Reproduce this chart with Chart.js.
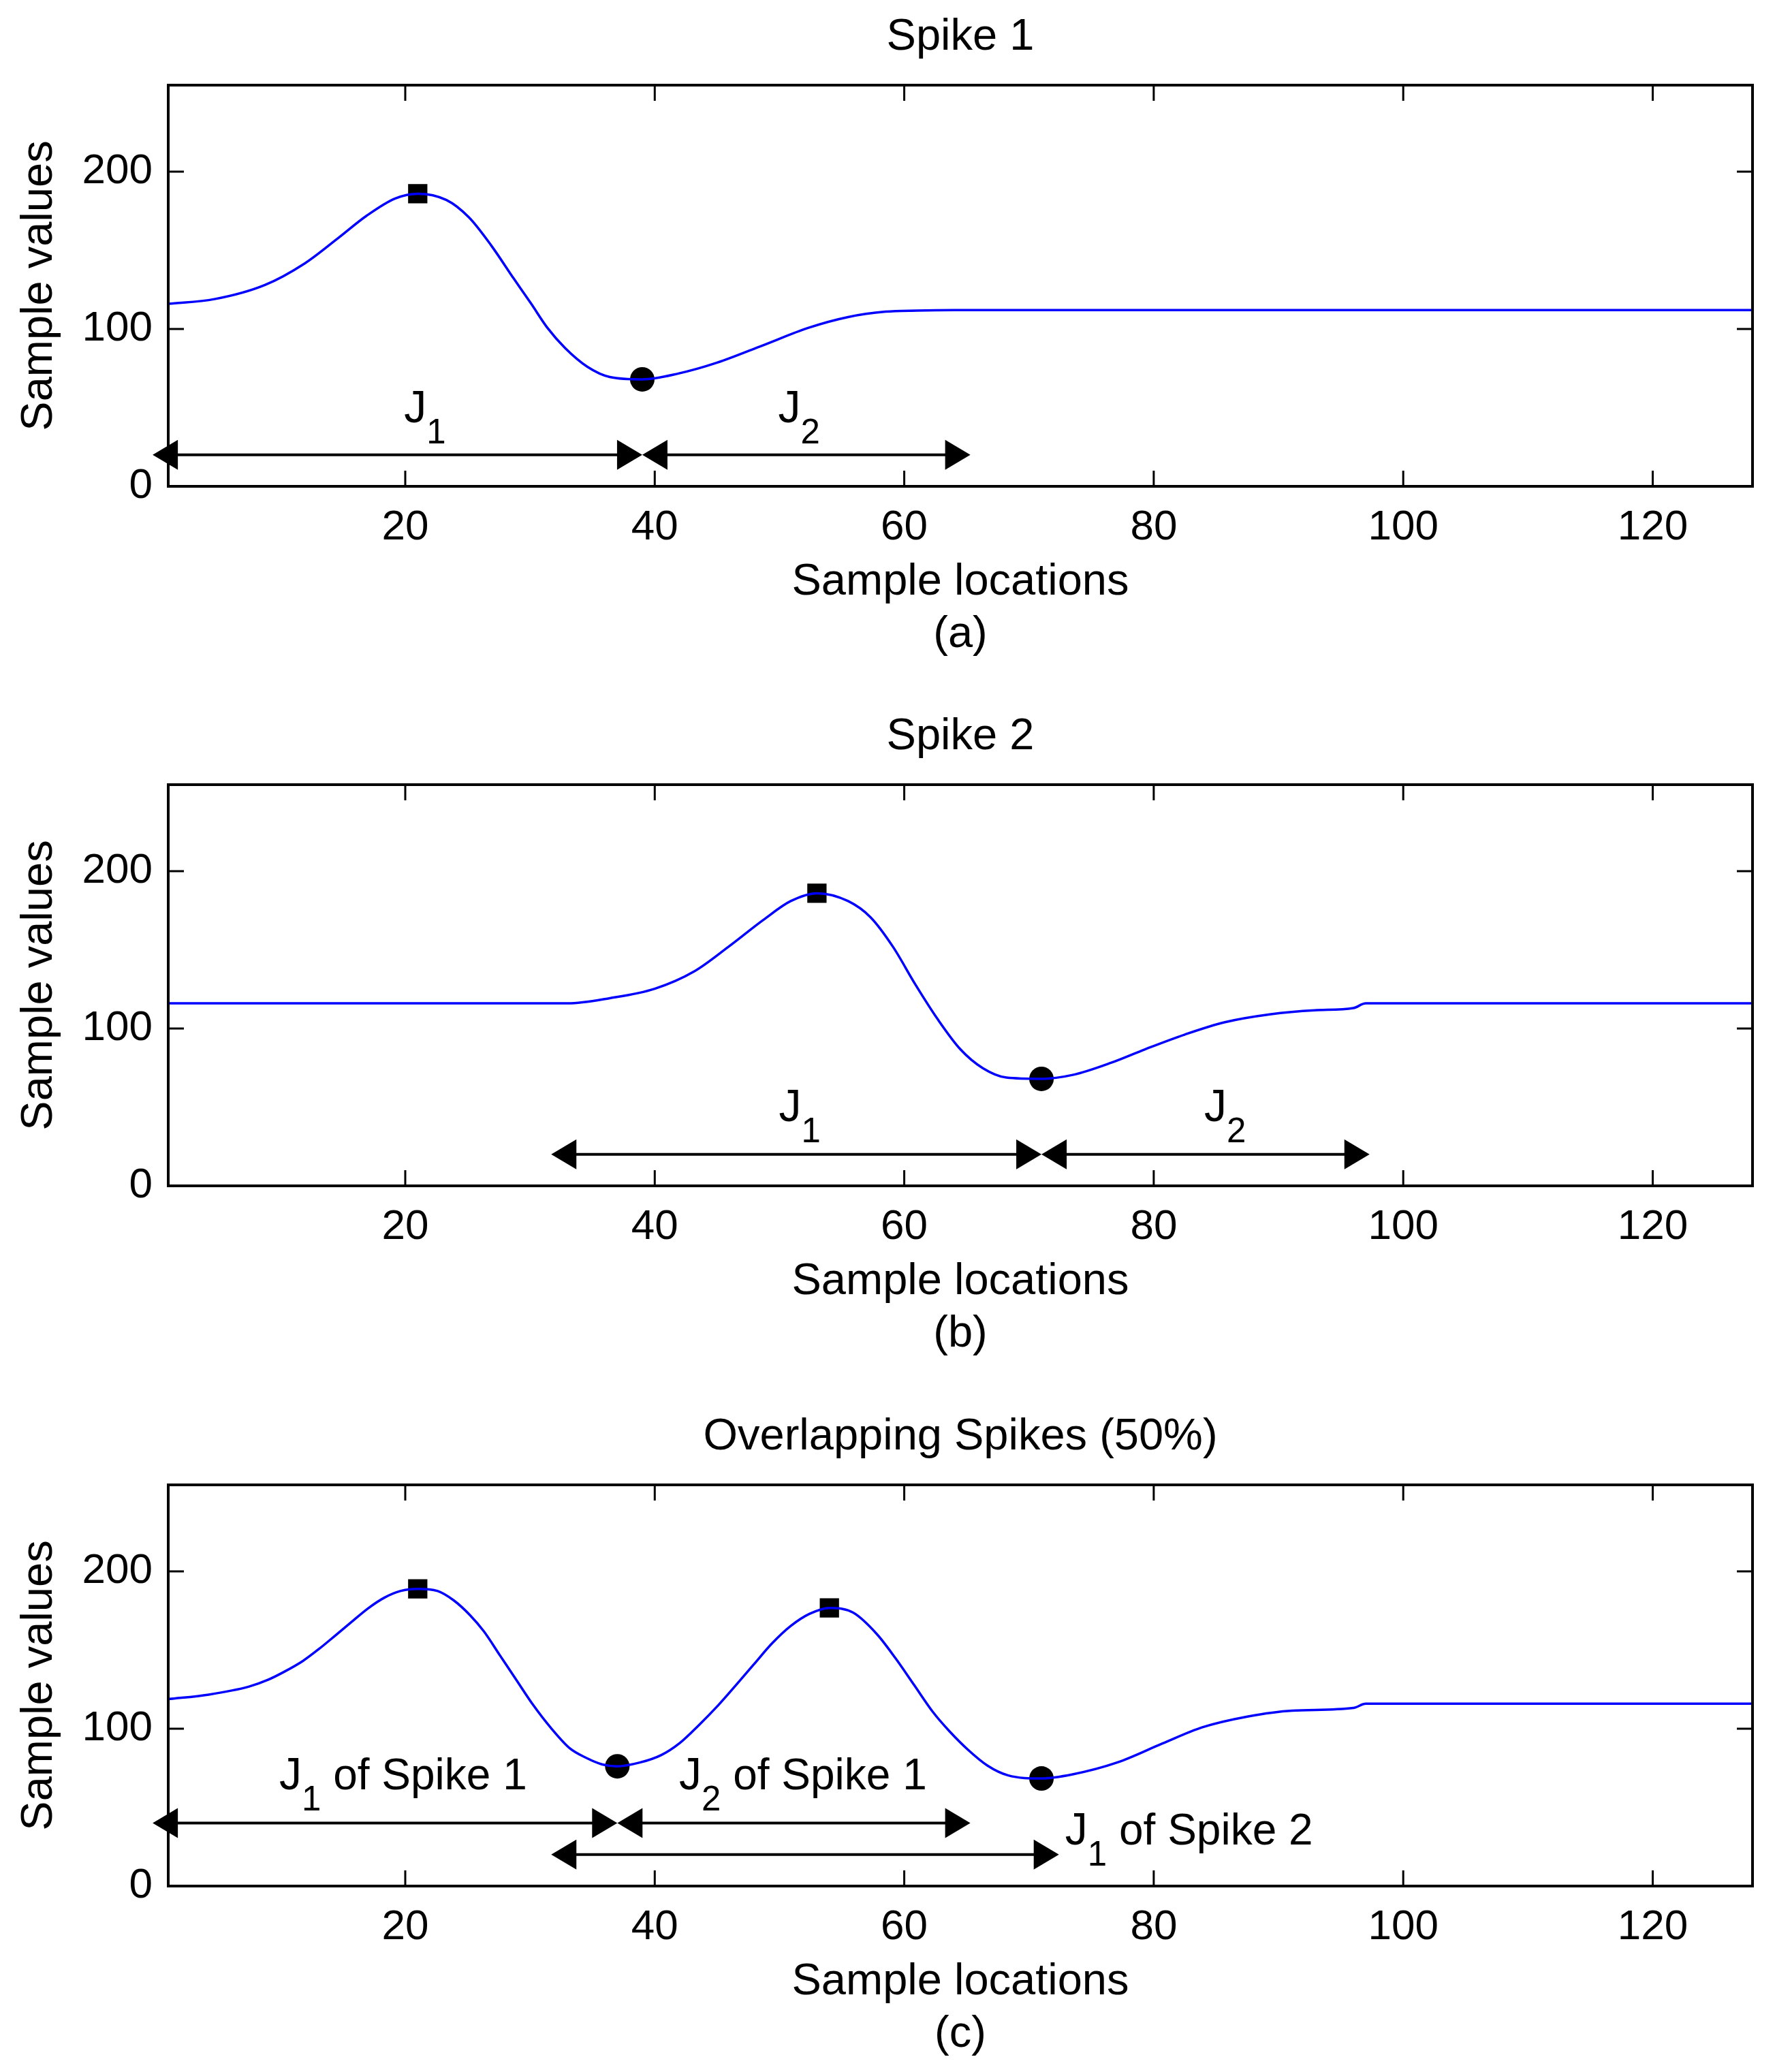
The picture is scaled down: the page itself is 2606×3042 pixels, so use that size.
<!DOCTYPE html>
<html><head><meta charset="utf-8">
<script src="https://cdn.jsdelivr.net/npm/chart.js@4.4.1/dist/chart.umd.min.js"></script>
<style>
html,body{margin:0;padding:0;background:#fff;width:2606px;height:3042px;overflow:hidden}
canvas{position:absolute;left:0}
</style></head>
<body>
<canvas id="c1" width="2606" height="987" style="top:0px"></canvas>
<canvas id="c2" width="2606" height="987" style="top:1027px"></canvas>
<canvas id="c3" width="2606" height="987" style="top:2055px"></canvas>
<script>
// ---------- data ----------
const xTicks = [20, 40, 60, 80, 100, 120];
const yTicks = [0, 100, 200];

const spike1X = [1, 4.7, 8.75, 11.9, 14.65, 16.9, 19.2, 21, 23.3, 25.1, 26.9, 28.7, 30.1, 31.4, 32.8, 34.6, 36.4, 39, 41.9, 45, 48.7, 52.3, 55.5, 58.5, 61, 64, 128];
const spike1Y = [116, 119, 128, 141.5, 158, 172, 183, 186, 182, 171, 153, 132, 116, 100.7, 88, 76, 69.5, 68, 71.7, 78.6, 89.7, 100.7, 107.6, 111, 111.7, 112, 112];
const spike1PeakX = [21], spike1PeakY = [186];
const spike1TroughX = [39], spike1TroughY = [68];

const spike2X = [1, 33, 36.4, 40, 43.2, 45.9, 48.7, 50.9, 53, 55.5, 57.3, 59.1, 60.9, 62.7, 64.5, 66.3, 68.2, 71, 73.5, 76.6, 79.3, 82.5, 85.7, 89.3, 92.9, 96, 97, 128];
const spike2Y = [116, 116, 119.3, 125.3, 136.5, 151.9, 169, 181, 186, 181, 170.7, 151.9, 127.9, 105.7, 86.8, 74.8, 68.8, 68, 70.5, 78.3, 86.8, 96.2, 104, 109, 111.6, 113, 116, 116];
const spike2PeakX = [53], spike2PeakY = [186];
const spike2TroughX = [71], spike2TroughY = [68];

const overlapX = [1, 4.24, 7.48, 9.0, 10.3, 11.8, 13.1, 14.4, 15.7, 17.0, 18.3, 19.6, 21, 22.6, 23.9, 25.2, 26.3, 27.6, 28.9, 30.2, 31.7, 33.2, 34.5, 35.8, 37, 38.8, 40.5, 42.0, 43.5, 45.1, 46.6, 47.9, 49.4, 50.9, 52.4, 54, 55.9, 57.8, 59.3, 60.8, 62.3, 63.6, 65.1, 66.7, 68.3, 71, 73.5, 77.1, 80.7, 83.9, 87.5, 91.1, 96, 97, 128];
const overlapY = [118.8, 121.7, 126.8, 131.1, 136.2, 143.1, 150.8, 159.3, 167.9, 176.4, 183.2, 187.5, 188.9, 187.5, 181.5, 172.1, 161.9, 146.5, 131.1, 115.7, 100.3, 87.5, 81.5, 77.3, 76.1, 78.5, 83.2, 90.9, 102, 115, 128.5, 140.5, 154.2, 165.3, 173, 176.8, 173.8, 160.2, 144.8, 127.7, 110.6, 98.6, 86.7, 76.4, 70.4, 68.4, 71, 78.6, 90.6, 100.9, 107.7, 111.5, 113.2, 115.9, 115.9];
const overlapPeakX = [21, 54], overlapPeakY = [188.9, 176.8];
const overlapTroughX = [37, 71], overlapTroughY = [76.1, 68.4];

// interval arrows (sample locations) and their height (sample value)
const arrowsA_from = [-0.25, 39], arrowsA_to = [39, 65.3], arrowsA_y = [20, 20];
const arrowsB_from = [31.7, 71], arrowsB_to = [71, 97.3], arrowsB_y = [20, 20];
const arrowsC_from = [-0.25, 37, 31.7], arrowsC_to = [37, 65.3, 72.4], arrowsC_y = [40, 40, 20];

// interval labels
const labelsA_x = [19.9, 49.9], labelsA_y = [40.8, 40.8], labelsA_sub = ['1', '2'], labelsA_rest = ['', ''];
const labelsB_x = [49.95, 84.05], labelsB_y = [41.1, 41.1], labelsB_sub = ['1', '2'], labelsB_rest = ['', ''];
const labelsC_x = [9.9, 41.95, 72.9], labelsC_y = [61.3, 61.3, 26.6], labelsC_sub = ['1', '2', '1'],
      labelsC_rest = [' of Spike 1', ' of Spike 1', ' of Spike 2'];

const titles = ['Spike 1', 'Spike 2', 'Overlapping Spikes (50%)'];
const captions = ['(a)', '(b)', '(c)'];
const xTitle = 'Sample locations';
const yTitle = 'Sample values';

// ---------- drawing ----------
const FONT = '"Liberation Sans", Arial, Helvetica, sans-serif';
const toPts = (xs, ys) => xs.map((x, i) => ({x: x, y: ys[i]}));

const panelPlugin = {
  id: 'panel',
  afterDatasetsDraw(chart, args, o) {
    const ctx = chart.ctx, a = chart.chartArea, xs = chart.scales.x, ys = chart.scales.y;
    ctx.save();
    ctx.strokeStyle = '#000'; ctx.fillStyle = '#000';
    // axes box
    ctx.lineWidth = 4;
    ctx.strokeRect(a.left, a.top, a.right - a.left, a.bottom - a.top);
    // inward tick marks on all four sides
    const TL = 23;
    ctx.lineWidth = 3;
    ctx.beginPath();
    xs.ticks.forEach(t => {
      const px = xs.getPixelForValue(t.value);
      ctx.moveTo(px, a.bottom); ctx.lineTo(px, a.bottom - TL);
      ctx.moveTo(px, a.top); ctx.lineTo(px, a.top + TL);
    });
    ys.ticks.forEach(t => {
      const py = ys.getPixelForValue(t.value);
      ctx.moveTo(a.left, py); ctx.lineTo(a.left + TL, py);
      ctx.moveTo(a.right, py); ctx.lineTo(a.right - TL, py);
    });
    ctx.stroke();
    // arrows
    const HL = 37, HW = 22;
    const head = (tip, y, dir) => {
      ctx.beginPath();
      ctx.moveTo(tip, y);
      ctx.lineTo(tip - dir * HL, y - HW);
      ctx.lineTo(tip - dir * HL, y + HW);
      ctx.closePath(); ctx.fill();
    };
    o.arrFrom.forEach((f, i) => {
      const x1 = xs.getPixelForValue(f), x2 = xs.getPixelForValue(o.arrTo[i]);
      const y = ys.getPixelForValue(o.arrY[i]);
      ctx.lineWidth = 4;
      ctx.beginPath(); ctx.moveTo(x1 + HL * 0.5, y); ctx.lineTo(x2 - HL * 0.5, y); ctx.stroke();
      head(x1, y, -1); head(x2, y, 1);
    });
    // labels J_n ...
    ctx.textAlign = 'left'; ctx.textBaseline = 'alphabetic';
    o.labX.forEach((lx, i) => {
      const px = xs.getPixelForValue(lx), py = ys.getPixelForValue(o.labY[i]);
      ctx.font = '66px ' + FONT;
      ctx.fillText('J', px, py);
      ctx.font = '51px ' + FONT;
      ctx.fillText(o.labSub[i], px + 33, py + 31);
      const sw = ctx.measureText(o.labSub[i]).width;
      if (o.labRest[i]) {
        ctx.font = '64px ' + FONT;
        ctx.fillText(o.labRest[i], px + 33 + sw, py);
      }
    });
    // titles
    ctx.font = '65px ' + FONT;
    ctx.textAlign = 'center';
    const cx = (a.left + a.right) / 2;
    ctx.fillText(o.title, cx, a.top - 52);
    ctx.fillText(xTitle, cx, a.bottom + 159);
    ctx.fillText(o.caption, cx, a.bottom + 236);
    ctx.save();
    ctx.translate(76, (a.top + a.bottom) / 2);
    ctx.rotate(-Math.PI / 2);
    ctx.fillText(yTitle, 0, 0);
    ctx.restore();
    ctx.restore();
  }
};

function makePanel(id, cx, cy, pkx, pky, trx, try_, arrF, arrT, arrY, lx, ly, lsub, lrest, title, caption) {
  return new Chart(document.getElementById(id), {
    type: 'line',
    data: {
      datasets: [
        {data: toPts(cx, cy), borderColor: '#0000ff', borderWidth: 3.5, pointRadius: 0,
         cubicInterpolationMode: 'monotone', fill: false},
        {data: toPts(pkx, pky), showLine: false, pointStyle: 'rect', pointRadius: 20,
         backgroundColor: '#000', borderColor: '#000', borderWidth: 0},
        {data: toPts(trx, try_), showLine: false, pointStyle: 'circle', pointRadius: 18,
         backgroundColor: '#000', borderColor: '#000', borderWidth: 0}
      ]
    },
    options: {
      responsive: false, animation: false, devicePixelRatio: 1,
      layout: {padding: {top: 125, left: 0, right: 33, bottom: 0}},
      plugins: {
        legend: {display: false}, tooltip: {enabled: false}, title: {display: false},
        panel: {title: title, caption: caption, arrFrom: arrF, arrTo: arrT, arrY: arrY,
                labX: lx, labY: ly, labSub: lsub, labRest: lrest}
      },
      scales: {
        x: {
          type: 'linear', min: 1, max: 128,
          grid: {display: false, drawTicks: false}, border: {display: false},
          afterBuildTicks: s => { s.ticks = xTicks.map(v => ({value: v})); },
          afterFit: s => { s.height = 273; },
          ticks: {autoSkip: false, maxRotation: 0, color: '#000', padding: 24,
                  font: {family: FONT, size: 62}}
        },
        y: {
          type: 'linear', min: 0, max: 255,
          grid: {display: false, drawTicks: false}, border: {display: false},
          afterBuildTicks: s => { s.ticks = yTicks.map(v => ({value: v})); },
          afterFit: s => { s.width = 247; },
          ticks: {color: '#000', padding: 23, font: {family: FONT, size: 62}}
        }
      }
    },
    plugins: [panelPlugin]
  });
}

makePanel('c1', spike1X, spike1Y, spike1PeakX, spike1PeakY, spike1TroughX, spike1TroughY,
  arrowsA_from, arrowsA_to, arrowsA_y, labelsA_x, labelsA_y, labelsA_sub, labelsA_rest, titles[0], captions[0]);
makePanel('c2', spike2X, spike2Y, spike2PeakX, spike2PeakY, spike2TroughX, spike2TroughY,
  arrowsB_from, arrowsB_to, arrowsB_y, labelsB_x, labelsB_y, labelsB_sub, labelsB_rest, titles[1], captions[1]);
makePanel('c3', overlapX, overlapY, overlapPeakX, overlapPeakY, overlapTroughX, overlapTroughY,
  arrowsC_from, arrowsC_to, arrowsC_y, labelsC_x, labelsC_y, labelsC_sub, labelsC_rest, titles[2], captions[2]);
</script>
</body></html>
